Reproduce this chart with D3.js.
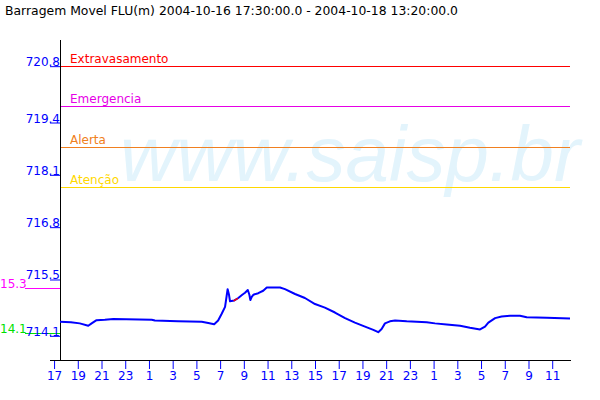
<!DOCTYPE html>
<html>
<head>
<meta charset="utf-8">
<script src="https://cdn.jsdelivr.net/npm/d3@7"></script>
<style>
  html, body { margin: 0; padding: 0; background: #fff; }
  svg { display: block; font-family: "DejaVu Sans", sans-serif; }
</style>
</head>
<body>
<svg id="chart" width="600" height="400"></svg>
<script>
// ---------------- DATA ----------------
const titleText = "Barragem Movel FLU(m) 2004-10-16 17:30:00.0 - 2004-10-18 13:20:00.0";
const watermarkText = "www.saisp.br";

const times = [
  "2004-10-16 17:30","2004-10-16 18:25","2004-10-16 19:10","2004-10-16 19:53","2004-10-16 20:10",
  "2004-10-16 20:35","2004-10-16 21:17","2004-10-16 22:00","2004-10-17 01:14","2004-10-17 01:30",
  "2004-10-17 03:27","2004-10-17 05:27","2004-10-17 06:00","2004-10-17 06:30","2004-10-17 06:50",
  "2004-10-17 07:08","2004-10-17 07:25","2004-10-17 07:33","2004-10-17 07:38","2004-10-17 07:45",
  "2004-10-17 07:50","2004-10-17 08:12","2004-10-17 08:32","2004-10-17 08:52","2004-10-17 09:06",
  "2004-10-17 09:20","2004-10-17 09:28","2004-10-17 09:33","2004-10-17 09:40","2004-10-17 09:48",
  "2004-10-17 10:13","2004-10-17 10:38","2004-10-17 10:56","2004-10-17 12:03","2004-10-17 12:28",
  "2004-10-17 13:19","2004-10-17 14:09","2004-10-17 15:00","2004-10-17 15:50","2004-10-17 16:41",
  "2004-10-17 17:32","2004-10-17 18:22","2004-10-17 19:13","2004-10-17 19:55","2004-10-17 20:20",
  "2004-10-17 20:37","2004-10-17 20:54","2004-10-17 21:19","2004-10-17 21:45","2004-10-17 22:44",
  "2004-10-18 00:25","2004-10-18 01:07","2004-10-18 02:06","2004-10-18 03:14","2004-10-18 04:04",
  "2004-10-18 04:55","2004-10-18 05:20","2004-10-18 05:37","2004-10-18 06:11","2004-10-18 06:44",
  "2004-10-18 07:26","2004-10-18 08:17","2004-10-18 08:51","2004-10-18 10:32","2004-10-18 12:30"
];
const levels = [
  714.45,714.44,714.41,714.35,714.41,
  714.49,714.50,714.52,714.50,714.48,
  714.46,714.45,714.42,714.39,714.48,
  714.65,714.82,715.09,715.26,715.12,
  714.96,714.98,715.04,715.12,715.17,
  715.24,715.12,714.99,715.07,715.12,
  715.16,715.22,715.30,715.30,715.26,
  715.14,715.04,714.89,714.80,714.68,
  714.54,714.43,714.33,714.25,714.19,
  714.27,714.41,714.46,714.48,714.46,
  714.44,714.41,714.38,714.35,714.30,
  714.26,714.33,714.43,714.54,714.58,
  714.60,714.60,714.56,714.55,714.53
];
// flagged (red) stretch of the series
const flagTimes = ["2004-10-17 08:08","2004-10-17 08:30"];
const flagLevels = [714.97, 715.03];

const thresholdNames = ["Extravasamento","Emergencia","Alerta","Atenção"];
const thresholdValues = [720.8, 719.8, 718.8, 717.8];

const refLabels = ["15.3","14.1"];
const refValues = [715.28, 714.16];

const yTickValues = [720.8, 719.4, 718.1, 716.8, 715.5, 714.1];
const xTickStart = "2004-10-16 17:00";
const xTickEnd = "2004-10-18 11:00";
const xDomain = ["2004-10-16 17:30","2004-10-18 12:30"];
const yDomain = [713.5, 721.45];

// ---------------- STYLES ----------------
const thresholdColors = ["#ff0000","#e600e6","#f08020","#ffd800"];
const refColors = ["#ff00ff","#00e000"];
const seriesColor = "#0000ff";
const axisTextColor = "#0000ff";

// ---------------- DRAW ----------------
const parse = d3.timeParse("%Y-%m-%d %H:%M");
const svg = d3.select("#chart");

const x = d3.scaleTime().domain(xDomain.map(parse)).range([60, 570]);
const y = d3.scaleLinear().domain(yDomain).range([360, 40]);

// title
svg.append("text")
  .attr("x", 5).attr("y", 15)
  .attr("font-size", 12).attr("fill", "#000")
  .attr("textLength", 453).attr("lengthAdjust", "spacingAndGlyphs")
  .text(titleText);

// watermark
svg.append("text")
  .attr("x", 120).attr("y", 181)
  .attr("font-size", 77).attr("font-style", "italic")
  .attr("font-family", "Liberation Sans, Arial, sans-serif")
  .attr("fill", "#e3f4fc")
  .attr("textLength", 460).attr("lengthAdjust", "spacingAndGlyphs")
  .text(watermarkText);

// threshold lines + labels
const thr = svg.append("g");
thresholdValues.forEach((v, i) => {
  const yy = Math.round(y(v)) + 0.5;
  thr.append("line")
    .attr("x1", 60).attr("x2", 570)
    .attr("y1", yy).attr("y2", yy)
    .attr("stroke", thresholdColors[i]).attr("stroke-width", 1);
  thr.append("text")
    .attr("x", 70).attr("y", yy - 4)
    .attr("font-size", 12).attr("fill", thresholdColors[i])
    .text(thresholdNames[i]);
});

// reference marks at left
refValues.forEach((v, i) => {
  const yy = Math.round(y(v)) + 0.5;
  svg.append("line")
    .attr("x1", 25).attr("x2", 60)
    .attr("y1", yy).attr("y2", yy)
    .attr("stroke", refColors[i]).attr("stroke-width", 1);
  svg.append("text")
    .attr("x", 0).attr("y", yy - 0.5)
    .attr("font-size", 12).attr("fill", refColors[i])
    .text(refLabels[i]);
});

// y axis
const yAxis = d3.axisLeft(y).tickValues(yTickValues).tickSize(10).tickFormat(d3.format(".1f"));
const gy = svg.append("g").attr("transform", "translate(60,0)").call(yAxis);
gy.select(".domain").remove();
gy.selectAll(".tick line").attr("stroke", axisTextColor);
gy.selectAll(".tick text")
  .attr("x", 0).attr("dy", "-0.5")
  .attr("fill", axisTextColor)
  .attr("font-size", 12)
  .attr("font-family", "DejaVu Sans, sans-serif");

// x axis: every 2 hours starting at 17h
const xTicks = d3.timeHour.range(parse(xTickStart), d3.timeMinute.offset(parse(xTickEnd), 1), 2);
const xAxis = d3.axisBottom(x).tickValues(xTicks).tickSize(9).tickFormat(d3.timeFormat("%-H"));
const gx = svg.append("g").attr("transform", "translate(0,360)").call(xAxis);
gx.select(".domain").remove();
gx.selectAll(".tick line").attr("stroke", axisTextColor);
gx.selectAll(".tick text")
  .attr("y", 20).attr("dy", "0")
  .attr("fill", axisTextColor)
  .attr("font-size", 12)
  .attr("font-family", "DejaVu Sans, sans-serif");

// axis lines (black)
svg.append("line").attr("x1", 60.5).attr("x2", 60.5).attr("y1", 40).attr("y2", 360)
  .attr("stroke", "#000").attr("stroke-width", 1);
svg.append("line").attr("x1", 50).attr("x2", 571).attr("y1", 360.5).attr("y2", 360.5)
  .attr("stroke", "#000").attr("stroke-width", 1);

// series
const series = times.map((t, i) => ({ t: parse(t), v: levels[i] }));
const flagged = flagTimes.map((t, i) => ({ t: parse(t), v: flagLevels[i] }));
const line = d3.line().x(d => x(d.t)).y(d => y(d.v));

svg.append("path").datum(series)
  .attr("d", line).attr("fill", "none")
  .attr("stroke", seriesColor).attr("stroke-width", 2)
  .attr("stroke-linejoin", "round");
svg.append("path").datum(flagged)
  .attr("d", line).attr("fill", "none")
  .attr("stroke", "#ff0000").attr("stroke-width", 1.5);
</script>
</body>
</html>
